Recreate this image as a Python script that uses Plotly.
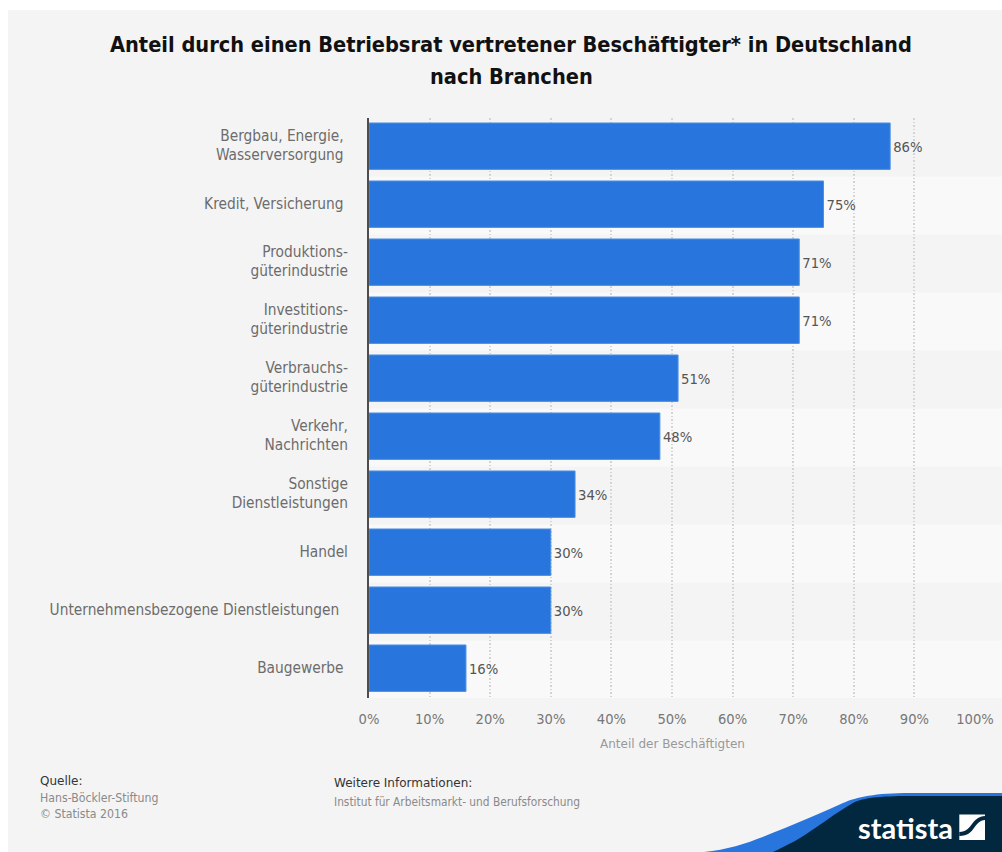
import plotly.graph_objects as go

WIDTH, HEIGHT = 1002, 852
PLOT_L, PLOT_R, PLOT_T, PLOT_B = 369, 975, 118, 698
BAR_SHIFT = 0.014  # nudges the bars up by just under a pixel
ROW_SHIFT = 0.028  # row shading sits slightly below the bar slots

NBSP = "\u00a0"
categories = [
    "Bergbau, Energie," + NBSP + "<br>Wasserversorgung" + NBSP,
    "Kredit, Versicherung" + NBSP,
    "Produktions-<br>güterindustrie",
    "Investitions-<br>güterindustrie",
    "Verbrauchs-<br>güterindustrie",
    "Verkehr,<br>Nachrichten",
    "Sonstige<br>Dienstleistungen",
    "Handel",
    "Unternehmensbezogene Dienstleistungen" + NBSP * 2,
    "Baugewerbe" + NBSP,
]
shares = [86, 75, 71, 71, 51, 48, 34, 30, 30, 16]
x_ticks = list(range(0, 101, 10))
x_tick_labels = [f"{t}%" for t in x_ticks]
title_lines = ["Anteil durch einen Betriebsrat vertretener Beschäftigter* in Deutschland", "nach Branchen"]

COND = "DejaVu Sans Condensed, DejaVu Sans"
SANS = "DejaVu Sans"
LOGO = "Lato"


def px(x):
    return (x - PLOT_L) / (PLOT_R - PLOT_L)


def py(y):
    return (PLOT_B - y) / (PLOT_B - PLOT_T)


def path(cmds):
    """Build an SVG path in paper coordinates from canvas pixel commands."""
    out = []
    for c in cmds:
        if c == "Z":
            out.append("Z")
        else:
            pts = " ".join(f"{px(c[i]):.5f},{py(c[i + 1]):.5f}" for i in range(1, len(c), 2))
            out.append(c[0] + pts)
    return " ".join(out)


y_end = len(categories) - 0.5 + BAR_SHIFT

shapes = [
    # page panel
    dict(type="rect", xref="paper", yref="paper", x0=px(8), x1=px(WIDTH), y0=py(10), y1=py(HEIGHT),
         fillcolor="#f4f4f4", line_width=0, layer="below"),
]
# alternating row bands, every second row lighter
for i in range(1, len(categories), 2):
    shapes.append(dict(type="rect", xref="paper", yref="y", x0=0, x1=px(WIDTH),
                       y0=i - 0.5 + ROW_SHIFT, y1=min(i + 0.5 + ROW_SHIFT, y_end),
                       fillcolor="#f9f9f9", line_width=0, layer="below"))

# footer swoosh and logo mark
shapes += [
    dict(type="path", xref="paper", yref="paper", line_width=0, fillcolor="#2876dd", layer="above",
         path=path([("M", 704, 852), ("C", 735, 849, 760, 838, 785, 828), ("C", 805, 820, 825, 811, 843, 803),
                    ("C", 857, 797, 875, 793, 910, 793), ("L", 1002, 793), ("L", 1002, 852), "Z"])),
    dict(type="path", xref="paper", yref="paper", line_width=0, fillcolor="#02283f", layer="above",
         path=path([("M", 773, 852), ("C", 785, 846, 792, 843, 800, 838), ("C", 818, 827, 835, 813, 853, 803),
                    ("C", 862, 798, 880, 796, 910, 796), ("L", 1002, 796), ("L", 1002, 852), "Z"])),
    dict(type="rect", xref="paper", yref="paper", x0=px(959.3), x1=px(985), y0=py(814.5), y1=py(840),
         fillcolor="white", line_width=0, layer="above"),
    dict(type="path", xref="paper", yref="paper", line_width=0, fillcolor="#02283f", layer="above",
         path=path([("M", 959.3, 832), ("C", 966, 832, 969, 828, 972, 824), ("C", 975, 820, 979, 816, 985, 816),
                    ("L", 985, 820), ("C", 980, 820, 977, 824, 974, 828), ("C", 971, 832, 968, 836, 959.3, 836), "Z"])),
]


def note(x, y, text, size, color, family=COND, anchor="left", bold=False):
    return dict(xref="paper", yref="paper", x=px(x), y=py(y), text=f"<b>{text}</b>" if bold else text,
                showarrow=False, xanchor=anchor, yanchor="middle", align=anchor,
                font=dict(size=size, color=color, family=family))


annotations = [
    note(511, 44, title_lines[0], 21.6, "#111111", COND, "center", True),
    note(511, 77, title_lines[1], 21.6, "#111111", COND, "center", True),
    note(38, 781, "Quelle:", 12, "#333333", SANS),
    note(38, 798, "Hans-Böckler-Stiftung", 12.2, "#8a8a8a"),
    note(38, 814, "© Statista 2016", 12.2, "#8a8a8a"),
    note(332, 783, "Weitere Informationen:", 12, "#333333", SANS),
    note(332, 802, "Institut für Arbeitsmarkt- und Berufsforschung", 11.8, "#8a8a8a"),
    note(856, 827, "statista", 29, "#ffffff", LOGO, "left", True),
    note(672, 744, "Anteil der Beschäftigten", 12, "#999999", SANS, "center"),
]

fig = go.Figure(
    go.Bar(
        y=categories,
        x=shares,
        orientation="h",
        marker=dict(color="#2876dd", line=dict(color="#4a90e4", width=1)),
        text=[f"{v}%" for v in shares],
        textposition="outside",
        cliponaxis=False,
        textfont=dict(size=14.7, color="#555555", family=COND),
        hoverinfo="skip",
    )
)

fig.update_layout(
    width=WIDTH,
    height=HEIGHT,
    autosize=False,
    margin=dict(l=PLOT_L, r=WIDTH - PLOT_R, t=PLOT_T, b=HEIGHT - PLOT_B, pad=0),
    paper_bgcolor="#ffffff",
    plot_bgcolor="rgba(0,0,0,0)",
    showlegend=False,
    bargap=0.2,
    shapes=shapes,
    annotations=annotations,
    xaxis=dict(
        range=[0, 100],
        tickvals=x_ticks,
        ticktext=x_tick_labels,
        showgrid=True,
        gridcolor="#d4d4d4",
        griddash="1.5px,2px",
        gridwidth=1.5,
        zeroline=False,
        showline=False,
        ticks="",
        automargin=False,
        tickfont=dict(size=14.6, color="#777777", family=COND),
        ticklabelstandoff=10,
    ),
    yaxis=dict(
        range=[y_end, -0.5 + BAR_SHIFT],
        type="category",
        showgrid=False,
        zeroline=False,
        showline=True,
        linecolor="#4d4d4d",
        linewidth=2,
        ticks="",
        automargin=False,
        tickfont=dict(size=15.3, color="#6c6c6c", family=COND),
        ticklabelstandoff=16,
        ticklabelshift=1,
    ),
)

fig.write_html("out.html", config=dict(displayModeBar=False))
